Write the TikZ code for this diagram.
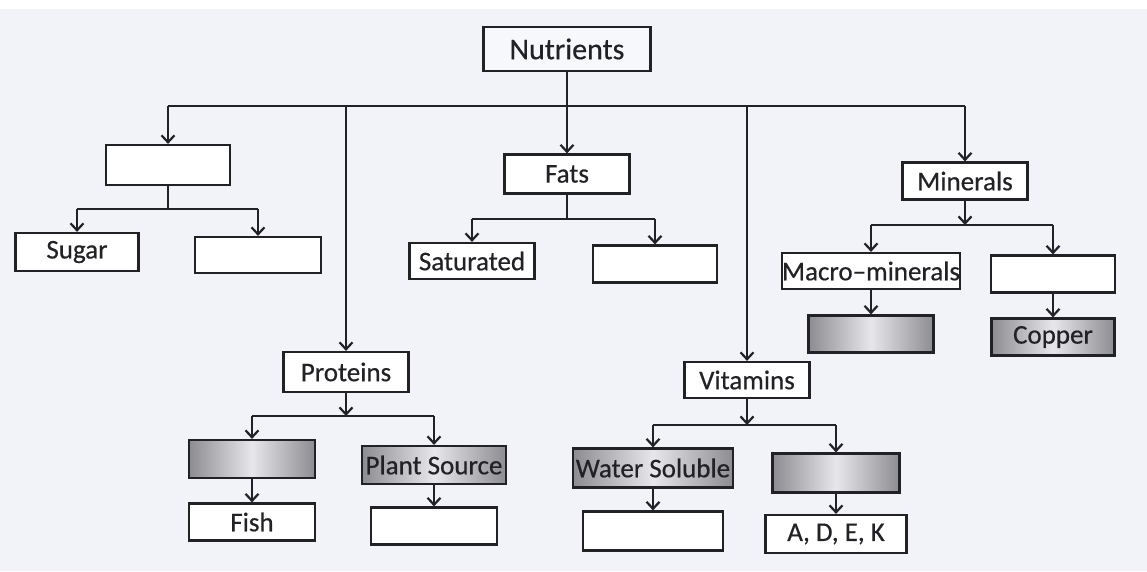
\documentclass[tikz,border=0pt]{standalone}
\usepackage{fontspec}
\setmainfont{Carlito}[FakeBold=0.5]
\usetikzlibrary{arrows.meta,calc}
\definecolor{ink}{RGB}{34,34,38}
\definecolor{paper}{RGB}{242,243,249}
\definecolor{shd}{RGB}{140,140,145}
\definecolor{shdm}{RGB}{230,230,235}
\tikzset{
  box/.style={draw=ink, line width=2.2pt, fill=white, inner sep=0pt, text=ink,
    font=\fontsize{27}{29}\selectfont},
  shadebox/.style={box, left color=shd, right color=shd, middle color=shdm},
  line/.style={draw=ink, line width=2.2pt},
  arr/.style={line, -{Straight Barb[length=7pt,width=13pt]}},
}
\begin{document}
\begin{tikzpicture}[x=1pt,y=-1pt]
\useasboundingbox (0,0) rectangle (1147,571);
\fill[white] (0,0) rectangle (1147,571);
\fill[paper] (0,9) rectangle (1147,571);

% nodes
\node[box, fill=paper!60!white, minimum width=167pt, minimum height=44pt, font=\fontsize{30}{32}\selectfont] (nut) at (567,49) {Nutrients};
\node[box, minimum width=124pt, minimum height=40pt] (carb) at (168,165) {};
\node[box, minimum width=123pt, minimum height=38pt] (sugar) at (77,252) {Sugar};
\node[box, minimum width=126pt, minimum height=36pt] (carbb) at (258,255) {};
\node[box, minimum width=125pt, minimum height=39pt] (fats) at (567,174) {Fats};
\node[box, minimum width=125pt, minimum height=36pt] (sat) at (472,261) {Saturated};
\node[box, minimum width=124pt, minimum height=37pt] (fatsb) at (655,264) {};
\node[box, minimum width=125pt, minimum height=37pt] (mins) at (965,181) {Minerals};
\node[box, minimum width=177pt, minimum height=36pt] (macro) at (871,271) {Macro–minerals};
\node[box, minimum width=124pt, minimum height=37pt] (minsb) at (1053,274) {};
\node[shadebox, minimum width=125pt, minimum height=37pt] (macrob) at (871,334) {};
\node[shadebox, minimum width=123pt, minimum height=37pt] (copper) at (1053,337) {Copper};
\node[box, minimum width=125pt, minimum height=40pt] (prot) at (346,372) {Proteins};
\node[shadebox, minimum width=126pt, minimum height=38pt] (protb) at (252,459) {};
\node[shadebox, minimum width=144pt, minimum height=38pt] (plant) at (434,465) {Plant Source};
\node[box, minimum width=126pt, minimum height=37pt] (fish) at (252,522) {Fish};
\node[box, minimum width=126pt, minimum height=37pt] (plantb) at (434,526) {};
\node[box, minimum width=125pt, minimum height=36pt] (vit) at (747,380) {Vitamins};
\node[shadebox, minimum width=160pt, minimum height=39pt] (water) at (653,468) {Water Soluble};
\node[shadebox, minimum width=127pt, minimum height=39pt] (vitb) at (836,473) {};
\node[box, minimum width=140pt, minimum height=39pt] (waterb) at (653,531) {};
\node[box, minimum width=141pt, minimum height=38pt] (adek) at (836,534) {A, D, E, K};

% bus levels
\coordinate (bus) at (0,106);
\coordinate (cbus) at (0,209);
\coordinate (fbus) at (0,219);
\coordinate (mbus) at (0,225);
\coordinate (pbus) at (0,416);
\coordinate (vbus) at (0,425);

% main bus
\draw[line] (carb.north |- bus) -- (mins.north |- bus);
\draw[line] (nut.south) -- (nut.south |- bus);
\draw[arr] (fats.north |- bus) -- (fats.north);
\draw[arr] (carb.north |- bus) -- (carb.north);
\draw[arr] (prot.north |- bus) -- (prot.north);
\draw[arr] (vit.north |- bus) -- (vit.north);
\draw[arr] (mins.north |- bus) -- (mins.north);

% carbohydrates
\draw[line] (carb.south) -- (carb.south |- cbus);
\draw[line] (sugar.north |- cbus) -- (carbb.north |- cbus);
\draw[arr] (sugar.north |- cbus) -- (sugar.north);
\draw[arr] (carbb.north |- cbus) -- (carbb.north);

% fats
\draw[line] (fats.south) -- (fats.south |- fbus);
\draw[line] (sat.north |- fbus) -- (fatsb.north |- fbus);
\draw[arr] (sat.north |- fbus) -- (sat.north);
\draw[arr] (fatsb.north |- fbus) -- (fatsb.north);

% minerals
\draw[arr] (mins.south) -- (mins.south |- mbus);
\draw[line] (macro.north |- mbus) -- (minsb.north |- mbus);
\draw[arr] (macro.north |- mbus) -- (macro.north);
\draw[arr] (minsb.north |- mbus) -- (minsb.north);
\draw[arr] (macro.south) -- (macrob.north);
\draw[arr] (minsb.south) -- (copper.north);

% proteins
\draw[arr] (prot.south) -- (prot.south |- pbus);
\draw[line] (protb.north |- pbus) -- (plant.north |- pbus);
\draw[arr] (protb.north |- pbus) -- (protb.north);
\draw[arr] (plant.north |- pbus) -- (plant.north);
\draw[arr] (protb.south) -- (fish.north);
\draw[arr] (plant.south) -- (plantb.north);

% vitamins
\draw[arr] (vit.south) -- (vit.south |- vbus);
\draw[line] (water.north |- vbus) -- (vitb.north |- vbus);
\draw[arr] (water.north |- vbus) -- (water.north);
\draw[arr] (vitb.north |- vbus) -- (vitb.north);
\draw[arr] (water.south) -- (waterb.north);
\draw[arr] (vitb.south) -- (adek.north);
\end{tikzpicture}
\end{document}
